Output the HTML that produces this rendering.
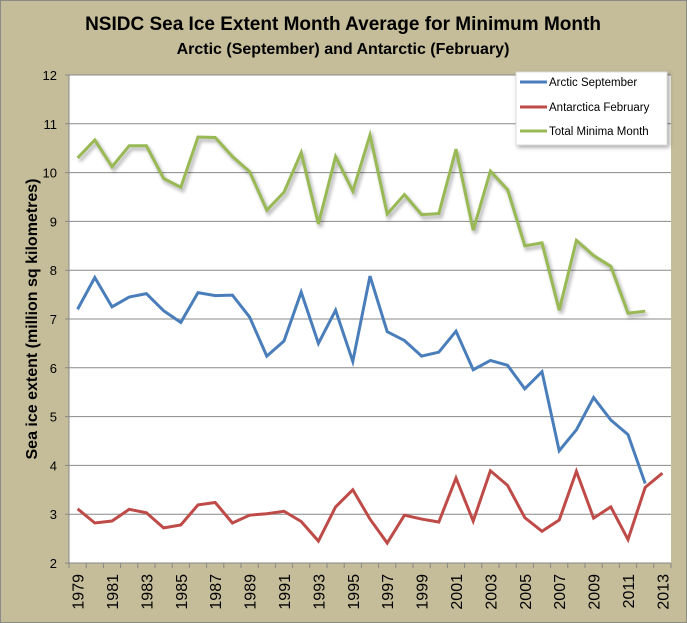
<!DOCTYPE html>
<html><head><meta charset="utf-8"><style>
body{margin:0;background:#c5bd99;}
svg{display:block;font-family:"Liberation Sans",sans-serif;}
</style></head><body>
<svg id="c" width="687" height="623">
<rect x="0.5" y="0.5" width="686" height="622" fill="#c5bd99" stroke="#8a8a8a"/>
<text x="343" y="30" text-anchor="middle" font-size="19" font-weight="bold" fill="#000">NSIDC Sea Ice Extent Month Average for Minimum Month</text>
<text x="343" y="54" text-anchor="middle" font-size="16" font-weight="bold" fill="#000">Arctic (September) and Antarctic (February)</text>
<rect x="69" y="75" width="602" height="488" fill="#fff"/>
<text transform="translate(37,319) rotate(-90)" text-anchor="middle" font-size="16" font-weight="bold" fill="#000">Sea ice extent (million sq kilometres)</text>
<g id="grid"></g><g id="series"></g>
<g>
<rect x="516" y="72" width="151" height="73" fill="#fff" stroke="#ddd" style="filter:drop-shadow(2px 2px 2px rgba(0,0,0,.35))"/>
<line x1="520" y1="82" x2="547" y2="82" stroke="#4a7ebb" stroke-width="3"/>
<text x="549" y="86" font-size="11.5">Arctic September</text>
<line x1="520" y1="107" x2="547" y2="107" stroke="#be4b48" stroke-width="3"/>
<text x="549" y="111" font-size="11.5">Antarctica February</text>
<line x1="520" y1="131" x2="547" y2="131" stroke="#98b954" stroke-width="3"/>
<text x="549" y="135" font-size="11.5">Total Minima Month</text>
</g>
</svg>
<script>
const years=[];for(let y=1979;y<=2013;y++)years.push(String(y));
const yTicks=[2,3,4,5,6,7,8,9,10,11,12];
const arctic=[7.2,7.85,7.25,7.45,7.52,7.17,6.93,7.54,7.48,7.49,7.04,6.24,6.55,7.55,6.5,7.18,6.13,7.88,6.74,6.56,6.24,6.32,6.75,5.96,6.15,6.05,5.57,5.92,4.3,4.73,5.39,4.93,4.63,3.63];
const antarctic=[3.11,2.82,2.86,3.1,3.03,2.72,2.78,3.19,3.24,2.82,2.98,3.01,3.06,2.85,2.45,3.15,3.5,2.9,2.41,2.98,2.9,2.84,3.74,2.86,3.89,3.59,2.93,2.65,2.88,3.88,2.92,3.15,2.48,3.55,3.84];
const total=[10.3,10.67,10.12,10.55,10.55,9.88,9.7,10.73,10.72,10.33,10.02,9.23,9.6,10.41,8.95,10.33,9.62,10.77,9.15,9.55,9.14,9.16,10.48,8.82,10.03,9.65,8.5,8.56,7.18,8.61,8.3,8.08,7.12,7.16];
const NS="http://www.w3.org/2000/svg";
const L=69,R=671,T=75,B=563,step=(R-L)/years.length;
const xp=i=>L+step*(i+0.5);
const yp=v=>B-(v-2)/10*(B-T);
const grid=document.getElementById('grid'),ser=document.getElementById('series');
function mk(tag,at,parent){const e=document.createElementNS(NS,tag);for(const k in at)e.setAttribute(k,at[k]);parent.appendChild(e);return e;}
yTicks.forEach(v=>{
 const g=mk('line',{x1:L-4,x2:R,y1:yp(v),y2:yp(v),stroke:'#888','stroke-width':1},grid);
 
 
 const t=mk('text',{x:L-12,y:yp(v)+5,'text-anchor':'end','font-size':13},grid);t.textContent=v;
 
 
});
mk('line',{x1:L,x2:L,y1:T,y2:B,stroke:'#888'},grid);
for(let i=0;i<=years.length;i++)mk('line',{x1:L+step*i,x2:L+step*i,y1:B,y2:B+5,stroke:'#888'},grid);
years.forEach((y,i)=>{if(i%2)return;
 const t=mk('text',{transform:`translate(${xp(i)+6},${B+11}) rotate(-90)`,'text-anchor':'end','font-size':16},grid);t.textContent=y;
 
 
});
function line(data,color,name,shadow){
 const pts=data.map((v,i)=>xp(i)+','+yp(v)).join(' ');
 if(shadow){mk('polyline',{points:pts,fill:'none',stroke:'rgba(0,0,0,0.25)','stroke-width':4,transform:'translate(2,3)',style:'filter:blur(1.5px)'},ser);}
 const p=mk('polyline',{points:pts,fill:'none',stroke:color,'stroke-width':3,'stroke-linejoin':'miter'},ser);
 
 
}
line(total,'#98b954','series-total-minima',true);
line(arctic,'#4a7ebb','series-arctic-september',false);
line(antarctic,'#be4b48','series-antarctica-february',false);
</script>
</body></html>
